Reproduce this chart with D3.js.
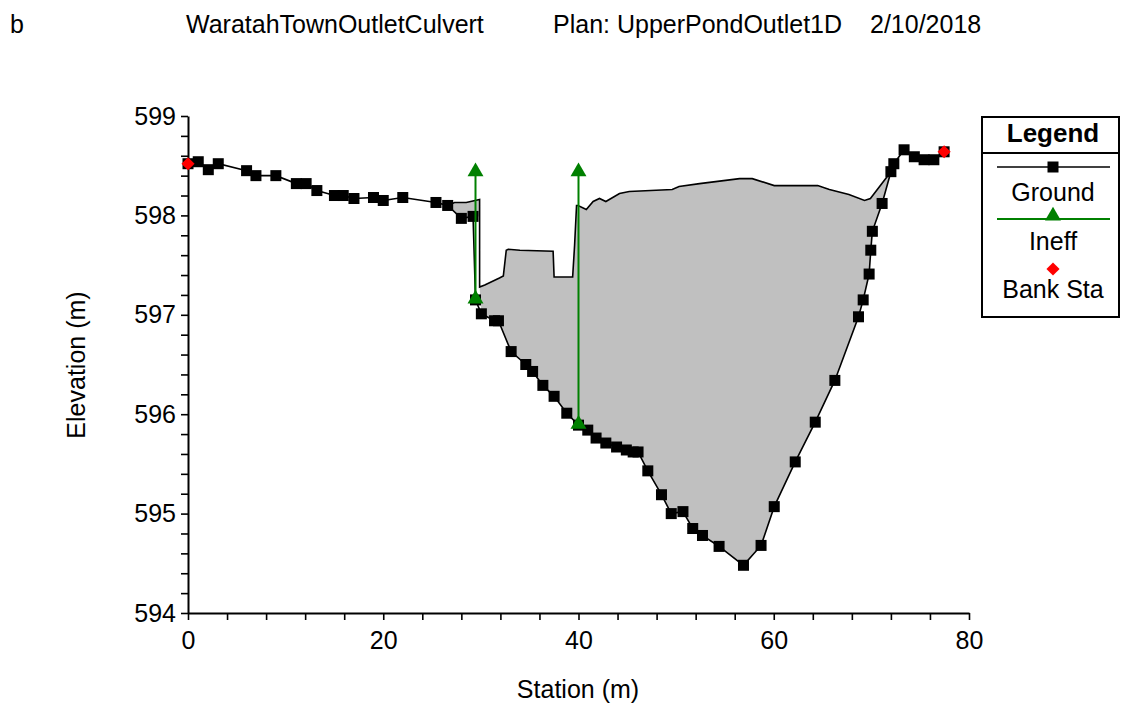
<!DOCTYPE html>
<html>
<head>
<meta charset="utf-8">
<script src="https://cdn.jsdelivr.net/npm/d3@7"></script>
<style>
  html, body { margin: 0; padding: 0; background: #fff; }
  svg { display: block; }
  text { font-family: "Liberation Sans", Arial, sans-serif; fill: #000; }
</style>
</head>
<body>
<svg id="chart" width="1122" height="708"></svg>
<script>
// Ground profile: station (m), elevation (m)
const groundStation = [0, 1.05, 2.08, 3.1, 6.0, 6.96, 9.0, 11.1, 12.1, 13.2, 15.0, 15.9, 17.0, 19.0, 20.0, 22.0,
  25.4, 26.6, 28.0, 29.2, 29.45, 30.05, 31.4, 31.8, 33.1, 34.6, 35.3, 36.35, 37.5, 38.8, 40.0, 40.95, 41.8, 42.8,
  43.9, 44.9, 45.6, 46.1, 47.1, 48.5, 49.5, 50.7, 51.7, 52.7, 54.4, 56.9, 58.7, 60.05, 62.2, 64.25, 66.26, 68.68,
  69.16, 69.77, 69.94, 70.1, 71.1, 72.0, 72.3, 73.35, 74.4, 75.4, 76.4, 77.45];
const groundElev = [598.52, 598.54, 598.46, 598.52, 598.45, 598.40, 598.40, 598.32, 598.32, 598.25, 598.20, 598.20,
  598.17, 598.18, 598.15, 598.18, 598.13, 598.10, 597.97, 597.99, 597.15, 597.01, 596.94, 596.94, 596.63, 596.50,
  596.43, 596.29, 596.18, 596.01, 595.89, 595.84, 595.76, 595.71, 595.67, 595.64, 595.62, 595.62, 595.43, 595.19,
  595.00, 595.02, 594.85, 594.78, 594.67, 594.48, 594.68, 595.07, 595.52, 595.92, 596.34, 596.98, 597.15, 597.41,
  597.65, 597.84, 598.12, 598.44, 598.52, 598.66, 598.59, 598.56, 598.56, 598.64];

// Upper boundary of the shaded area (station, elevation)
const lidStation = [26.6, 27.3, 28.5, 29.87, 29.87, 30.4, 31.9, 32.3, 32.6, 32.8, 34.0, 37.4, 37.5, 39.4, 39.6,
  39.8, 39.95, 40.8, 41.5, 42.15, 42.8, 44.2, 45.2, 49.6, 50.3, 52.4, 56.5, 57.8, 60.05, 64.5, 65.7, 67.7, 69.3,
  69.9, 72.0];
const lidElev = [598.10, 598.13, 598.13, 598.16, 597.28, 597.30, 597.37, 597.39, 597.65, 597.66, 597.65, 597.64,
  597.38, 597.38, 597.70, 598.10, 598.10, 598.06, 598.14, 598.17, 598.14, 598.22, 598.24, 598.26, 598.29, 598.32,
  598.37, 598.37, 598.30, 598.30, 598.26, 598.21, 598.15, 598.17, 598.44];

// Ineffective flow limits
const ineffStation = [29.45, 40.0];
const ineffElev = 598.43;

// Bank stations
const bankStation = [0, 77.45];

// Axis ticks
const xMajorTicks = [0, 20, 40, 60, 80];
const yMajorTicks = [594, 595, 596, 597, 598, 599];

const titleParts = [
  { text: "WaratahTownOutletCulvert", x: 186 },
  { text: "Plan: UpperPondOutlet1D", x: 553 },
  { text: "2/10/2018", x: 870 }
];

const svg = d3.select("#chart");
const FS = 25;

const x = d3.scaleLinear().domain([0, 80]).range([188, 969]);
const y = d3.scaleLinear().domain([594, 599]).range([613, 116]);

const ground = groundStation.map((s, i) => ({ s, e: groundElev[i] }));
const lid = lidStation.map((s, i) => ({ s, e: lidElev[i] }));
const groundAt = s => ground.find(d => Math.abs(d.s - s) < 1e-6).e;

const line = d3.line().x(d => x(d.s)).y(d => y(d.e));

// Shaded area: left sliver and main body, each closed against the ground
const splitIdx = 4; // first point of the drop at the left wall
const leftTop = lid.slice(0, splitIdx);
const wallS = leftTop[leftTop.length - 1].s;
const leftGround = ground.filter(d => d.s >= lid[0].s && d.s <= 29.2);
const leftPoly = leftTop
  .concat([{ s: wallS, e: leftGround[leftGround.length - 1].e }])
  .concat(leftGround.slice().reverse());
const mainTop = lid.slice(splitIdx);
const mainEnd = mainTop[mainTop.length - 1].s;
const mainGround = ground.filter(d => d.s > wallS && d.s <= mainEnd);
const mainPoly = mainTop.concat(mainGround.slice().reverse());

svg.append("path").attr("d", line(leftPoly) + "Z").attr("fill", "#c0c0c0");
svg.append("path").attr("d", line(mainPoly) + "Z").attr("fill", "#c0c0c0");
svg.append("path").attr("d", line(lid)).attr("fill", "none").attr("stroke", "#000").attr("stroke-width", 1.6);

// Axes
const yMinor = d3.range(0, 26).map(i => 594 + i * 0.2);
const yAxis = d3.axisLeft(y).tickValues(yMinor).tickSize(7).tickSizeOuter(0).tickPadding(5)
  .tickFormat(d => yMajorTicks.some(t => Math.abs(t - d) < 1e-6) ? d3.format("d")(Math.round(d)) : "");
const gy = svg.append("g").attr("transform", `translate(${x(0)},0)`).call(yAxis);

const xMinor = d3.range(0, 21).map(i => i * 4);
const xAxis = d3.axisBottom(x).tickValues(xMinor).tickSize(7).tickSizeOuter(0).tickPadding(11)
  .tickFormat(d => xMajorTicks.includes(d) ? d : "");
const gx = svg.append("g").attr("transform", `translate(0,${y(594)})`).call(xAxis);

[gx, gy].forEach(g => {
  g.select(".domain").attr("stroke", "#000").attr("stroke-width", 2);
  g.selectAll(".tick line").attr("stroke", "#000").attr("stroke-width", 1.6);
  g.selectAll(".tick text").attr("font-size", FS).attr("font-family", '"Liberation Sans", Arial, sans-serif').attr("fill", "#000");
});

// Ground line and markers
svg.append("path").attr("d", line(ground)).attr("fill", "none").attr("stroke", "#000").attr("stroke-width", 1.6);
svg.append("g").selectAll("rect").data(ground).join("rect")
  .attr("x", d => x(d.s) - 5.5).attr("y", d => y(d.e) - 5.5)
  .attr("width", 11).attr("height", 11).attr("fill", "#000");

// Ineffective flow markers
const tri = d3.symbol().type(d3.symbolTriangle).size(110);
const ineff = ineffStation.map(s => ({ s, bottom: groundAt(s), top: ineffElev }));
const gi = svg.append("g");
gi.selectAll("line").data(ineff).join("line")
  .attr("x1", d => x(d.s)).attr("x2", d => x(d.s))
  .attr("y1", d => y(d.bottom)).attr("y2", d => y(d.top))
  .attr("stroke", "#008000").attr("stroke-width", 2);
ineff.forEach(d => {
  [d.bottom, d.top].forEach(e => {
    gi.append("path").attr("d", tri()).attr("fill", "#008000")
      .attr("transform", `translate(${x(d.s)},${y(e) - 1})`);
  });
});

// Bank stations
const diamond = d3.symbol().type(d3.symbolDiamond2).size(110);
svg.append("g").selectAll("path").data(bankStation.map(s => ({ s, e: groundAt(s) }))).join("path")
  .attr("d", diamond()).attr("fill", "#ff0000")
  .attr("transform", d => `translate(${x(d.s)},${y(d.e)})`);

// Titles
svg.append("text").attr("x", 10).attr("y", 33).attr("font-size", FS).text("b");
svg.selectAll(".title").data(titleParts).join("text").attr("class", "title")
  .attr("x", d => d.x).attr("y", 33).attr("font-size", FS).text(d => d.text);

svg.append("text").attr("text-anchor", "middle").attr("font-size", FS)
  .attr("transform", "translate(85,365) rotate(-90)").text("Elevation (m)");
svg.append("text").attr("text-anchor", "middle").attr("font-size", FS)
  .attr("x", 578).attr("y", 698).text("Station (m)");

// Legend
const lg = svg.append("g");
lg.append("rect").attr("x", 982).attr("y", 117).attr("width", 137).attr("height", 200)
  .attr("fill", "#fff").attr("stroke", "#000").attr("stroke-width", 2);
lg.append("line").attr("x1", 982).attr("x2", 1119).attr("y1", 153).attr("y2", 153)
  .attr("stroke", "#000").attr("stroke-width", 2);
const lcx = 1053;
lg.append("text").attr("x", lcx).attr("y", 142).attr("text-anchor", "middle")
  .attr("font-size", 26).attr("font-weight", "bold").text("Legend");
lg.append("line").attr("x1", 997).attr("x2", 1110).attr("y1", 167).attr("y2", 167)
  .attr("stroke", "#000").attr("stroke-width", 1.6);
lg.append("rect").attr("x", lcx - 5.5).attr("y", 167 - 5.5).attr("width", 11).attr("height", 11).attr("fill", "#000");
lg.append("text").attr("x", lcx).attr("y", 201).attr("text-anchor", "middle").attr("font-size", FS).text("Ground");
lg.append("line").attr("x1", 997).attr("x2", 1110).attr("y1", 219).attr("y2", 219)
  .attr("stroke", "#008000").attr("stroke-width", 2);
lg.append("path").attr("d", tri()).attr("fill", "#008000").attr("transform", `translate(${lcx},216)`);
lg.append("text").attr("x", lcx).attr("y", 250).attr("text-anchor", "middle").attr("font-size", FS).text("Ineff");
lg.append("path").attr("d", diamond()).attr("fill", "#ff0000").attr("transform", `translate(${lcx},269)`);
lg.append("text").attr("x", lcx).attr("y", 298).attr("text-anchor", "middle").attr("font-size", FS).text("Bank Sta");
</script>
</body>
</html>
